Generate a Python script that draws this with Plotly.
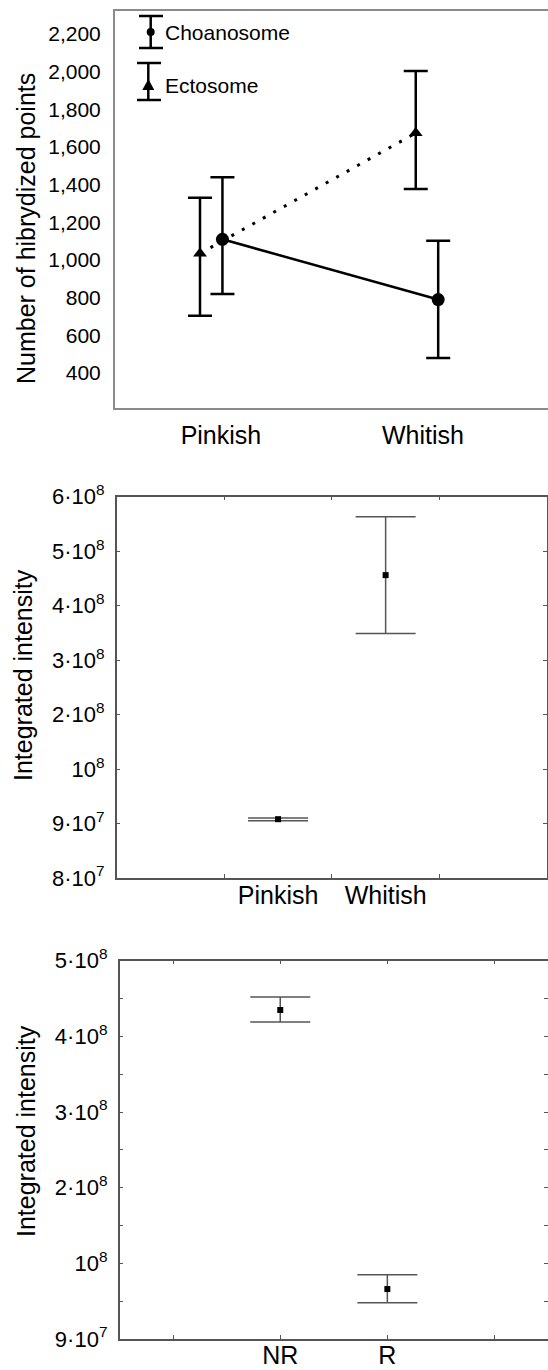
import numpy as np
import plotly.graph_objects as go

W, H = 548, 1370
FONT = "Arial, Liberation Sans, Helvetica, sans-serif"

# ---------------- Panel 1: Number of hybridized points ----------------
categories1 = ["Pinkish", "Whitish"]
choano_mean = [1110, 790]
choano_upper = [1439, 1102]
choano_lower = [819, 479]
ecto_mean = [1035, 1674]
ecto_upper = [1331, 2004]
ecto_lower = [704, 1377]
y1_tickvals = [400, 600, 800, 1000, 1200, 1400, 1600, 1800, 2000, 2200]
y1_ticktext = ["400", "600", "800", "1,000", "1,200", "1,400", "1,600", "1,800", "2,000", "2,200"]
series1_names = ["Choanosome", "Ectosome"]

# ---------------- Panel 2 ----------------
categories2 = ["Pinkish", "Whitish"]
p2_mean = [9.08e7, 4.56e8]
p2_upper = [9.10e7, 5.63e8]
p2_lower = [9.05e7, 3.49e8]
y2_tickvals = [8e7, 9e7, 1e8, 2e8, 3e8, 4e8, 5e8, 6e8]
y2_ticktext = ["8·10<sup>7</sup>", "9·10<sup>7</sup>", "10<sup>8</sup>", "2·10<sup>8</sup>",
               "3·10<sup>8</sup>", "4·10<sup>8</sup>", "5·10<sup>8</sup>", "6·10<sup>8</sup>"]

# ---------------- Panel 3 ----------------
categories3 = ["NR", "R"]
p3_mean = [4.35e8, 9.66e7]
p3_upper = [4.52e8, 9.85e7]
p3_lower = [4.19e8, 9.48e7]
y3_tickvals = [9e7, 1e8, 2e8, 3e8, 4e8, 5e8]
y3_ticktext = ["9·10<sup>7</sup>", "10<sup>8</sup>", "2·10<sup>8</sup>", "3·10<sup>8</sup>",
               "4·10<sup>8</sup>", "5·10<sup>8</sup>"]


def px(x):
    return x / W


def py(y):
    return 1 - y / H


def to_axis(values, tickvals):
    # the printed axes have evenly spaced labels; place values by those labels
    return np.interp(values, tickvals, np.arange(len(tickvals)))


fig = go.Figure()

off = 0.052
xc = np.arange(len(categories1))
ch_m = np.array(choano_mean, float)
ec_m = np.array(ecto_mean, float)
fig.add_trace(go.Scatter(
    x=xc - off, y=ec_m, mode="lines+markers", name=series1_names[1],
    line=dict(color="black", width=3, dash="3px,9px"),
    marker=dict(symbol="triangle-up", size=12, color="black"),
    error_y=dict(type="data", symmetric=False,
                 array=np.array(ecto_upper) - ec_m, arrayminus=ec_m - np.array(ecto_lower),
                 color="black", thickness=2.5, width=12),
    xaxis="x", yaxis="y", showlegend=False))
fig.add_trace(go.Scatter(
    x=xc + off, y=ch_m, mode="lines+markers", name=series1_names[0],
    line=dict(color="black", width=2.5),
    marker=dict(symbol="circle", size=13, color="black"),
    error_y=dict(type="data", symmetric=False,
                 array=np.array(choano_upper) - ch_m, arrayminus=ch_m - np.array(choano_lower),
                 color="black", thickness=2.5, width=12),
    xaxis="x", yaxis="y", showlegend=False))

m2 = to_axis(p2_mean, y2_tickvals)
u2 = to_axis(p2_upper, y2_tickvals)
l2 = to_axis(p2_lower, y2_tickvals)
fig.add_trace(go.Scatter(
    x=np.arange(1, len(categories2) + 1), y=m2, mode="markers",
    marker=dict(symbol="square", size=6, color="black"),
    error_y=dict(type="data", symmetric=False, array=u2 - m2, arrayminus=m2 - l2,
                 color="#555555", thickness=1.5, width=30),
    xaxis="x2", yaxis="y2", showlegend=False))

m3 = to_axis(p3_mean, y3_tickvals)
u3 = to_axis(p3_upper, y3_tickvals)
l3 = to_axis(p3_lower, y3_tickvals)
fig.add_trace(go.Scatter(
    x=np.arange(1, len(categories3) + 1), y=m3, mode="markers",
    marker=dict(symbol="square", size=6, color="black"),
    error_y=dict(type="data", symmetric=False, array=u3 - m3, arrayminus=m3 - l3,
                 color="#555555", thickness=1.5, width=30),
    xaxis="x3", yaxis="y3", showlegend=False))

tickfont_y = dict(family=FONT, size=21, color="black")
tickfont_x = dict(family=FONT, size=25, color="black")
frame2 = "#555555"

fig.update_layout(
    width=W, height=H,
    margin=dict(l=0, r=0, t=0, b=0, pad=0, autoexpand=False),
    paper_bgcolor="white", plot_bgcolor="white",
    font=dict(family=FONT, color="black"),
    xaxis=dict(domain=[px(115), 1.0], anchor="y", range=[-0.446, 1.561],
               tickvals=[0.045, 0.981], ticktext=categories1, ticks="",
               tickfont=tickfont_x, ticklabelstandoff=4, automargin=False,
               showline=True, linecolor="#8a8a8a", linewidth=2, mirror=True,
               showgrid=False, zeroline=False),
    yaxis=dict(domain=[py(408), py(10.7)], anchor="x", range=[214, 2324],
               tickvals=y1_tickvals, ticktext=y1_ticktext, ticks="",
               tickfont=tickfont_y, ticklabelstandoff=8, automargin=False,
               showline=True, linecolor="#8a8a8a", linewidth=2, mirror=False,
               showgrid=False, zeroline=False),
    xaxis2=dict(domain=[px(116.7), px(547)], anchor="y2", range=[-0.5, 3.5],
                tickvals=[1, 2], ticktext=categories2, ticks="",
                tickfont=tickfont_x, ticklabelstandoff=-6, automargin=False,
                minor=dict(tickvals=[0.5, 1.5, 2.5], ticks="inside", ticklen=4,
                           tickcolor=frame2, tickwidth=1.2, showgrid=False),
                showline=True, linecolor=frame2, linewidth=1.5, mirror="ticks",
                showgrid=False, zeroline=False),
    yaxis2=dict(domain=[py(878), py(496.7)], anchor="x2", range=[0, 7],
                tickvals=list(range(len(y2_tickvals))), ticktext=y2_ticktext,
                ticks="inside", ticklen=4, tickcolor=frame2, tickwidth=1.2,
                tickfont=dict(family=FONT, size=22, color="black"), ticklabelstandoff=6,
                automargin=False,
                showline=True, linecolor=frame2, linewidth=1.5, mirror="ticks",
                showgrid=False, zeroline=False),
    xaxis3=dict(domain=[px(119.6), 1.0], anchor="y3", range=[-0.5, 3.5],
                tickvals=[0, 1, 2, 3], ticktext=["", categories3[0], categories3[1], ""],
                ticks="inside", ticklen=4, tickcolor=frame2, tickwidth=1.2,
                tickfont=tickfont_x, ticklabelstandoff=-7, automargin=False,
                showline=True, linecolor=frame2, linewidth=1.5, mirror="ticks",
                showgrid=False, zeroline=False),
    yaxis3=dict(domain=[py(1339), py(960.7)], anchor="x3", range=[0, 5],
                tickvals=list(range(len(y3_tickvals))), ticktext=y3_ticktext,
                ticks="inside", ticklen=4, tickcolor=frame2, tickwidth=1.2,
                minor=dict(tickvals=[0.5, 1.5, 2.5, 3.5, 4.5], ticks="inside", ticklen=4,
                           tickcolor=frame2, tickwidth=1.2, showgrid=False),
                tickfont=dict(family=FONT, size=22, color="black"), ticklabelstandoff=6,
                automargin=False,
                showline=True, linecolor=frame2, linewidth=1.5, mirror=False,
                showgrid=False, zeroline=False),
    yaxis4=dict(overlaying="y3", anchor="x3", side="right", range=[0, 5],
                tickvals=list(range(len(y3_tickvals))), showticklabels=False,
                ticks="inside", ticklen=4, tickcolor=frame2, tickwidth=1.2,
                minor=dict(tickvals=[0.5, 1.5, 2.5, 3.5, 4.5], ticks="inside", ticklen=4,
                           tickcolor=frame2, tickwidth=1.2, showgrid=False),
                automargin=False,
                showline=False, showgrid=False, zeroline=False),
)
# empty trace so that the right-hand tick axis of panel 3 is rendered
fig.add_trace(go.Scatter(x=[], y=[], xaxis="x3", yaxis="y4", showlegend=False, hoverinfo="skip"))

title_font = dict(family=FONT, size=25, color="black")
for (tx, ty, txt) in [(26, 229, "Number of hibrydized points"),
                      (23, 675, "Integrated intensity"),
                      (26, 1131, "Integrated intensity")]:
    fig.add_annotation(x=px(tx), y=py(ty), xref="paper", yref="paper", text=txt,
                       textangle=-90, showarrow=False, font=title_font,
                       xanchor="center", yanchor="middle")

# legend of panel 1 drawn as error-bar glyphs
lw = 2.5
def seg(x0, y0, x1, y1):
    fig.add_shape(type="line", xref="paper", yref="paper",
                  x0=px(x0), y0=py(y0), x1=px(x1), y1=py(y1),
                  line=dict(color="black", width=lw))

seg(150.7, 16, 150.7, 48)
seg(139, 16, 163, 16)
seg(139, 48, 163, 48)
fig.add_shape(type="circle", xref="paper", yref="paper",
              x0=px(146.7), x1=px(154.7), y0=py(36), y1=py(28),
              fillcolor="black", line=dict(color="black", width=0))
seg(148.3, 63, 148.3, 100)
seg(137, 63, 161, 63)
seg(137, 100, 161, 100)
fig.add_shape(type="path", xref="paper", yref="paper",
              path=f"M {px(148.3)} {py(79)} L {px(154.3)} {py(90)} L {px(142.3)} {py(90)} Z",
              fillcolor="black", line=dict(color="black", width=0))

for (lx, ly, txt) in [(163, 33, series1_names[0]), (163, 86, series1_names[1])]:
    fig.add_annotation(x=px(lx), y=py(ly), xref="paper", yref="paper", text=txt,
                       showarrow=False, font=dict(family=FONT, size=21, color="black"),
                       xanchor="left", yanchor="middle")

post = ("document.documentElement.style.margin='0';document.body.style.margin='0';"
        "document.body.style.overflow='hidden';"
        "var gd=document.getElementById('{plot_id}');"
        "gd.style.position='fixed';gd.style.top='0px';gd.style.left='0px';")
fig.write_html("out.html", config={"displayModeBar": False}, post_script=post)
